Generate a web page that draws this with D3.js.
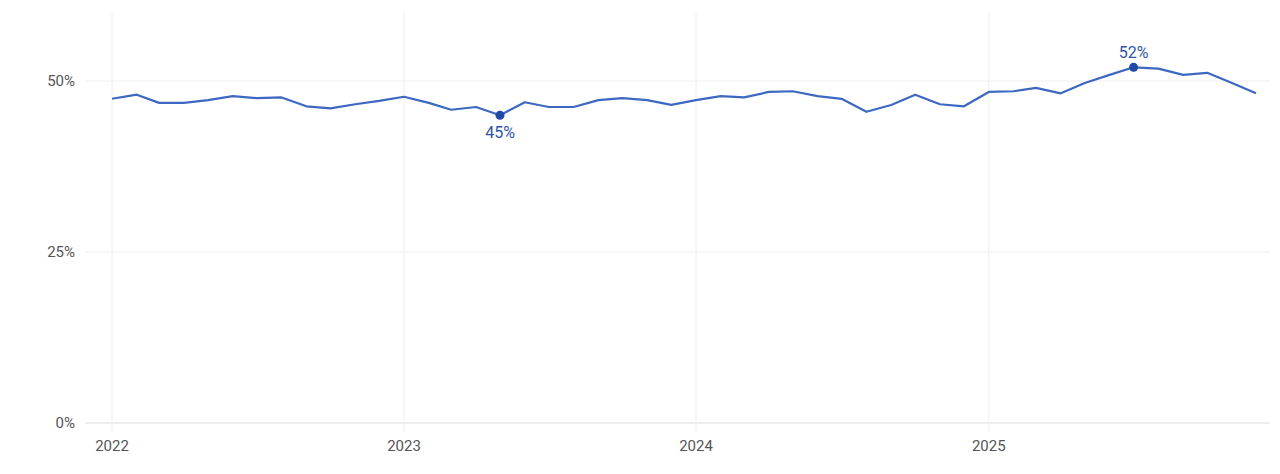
<!DOCTYPE html>
<html><head><meta charset="utf-8">
<script src="https://cdn.jsdelivr.net/npm/d3@7"></script>
<style>body{margin:0;background:#fff}text{font-family:Roboto,sans-serif}</style>
</head><body><svg id="c" width="1280" height="474"></svg>
<script>
const startYear = 2022;
const values = [
47.4,48.0,46.8,46.8,47.2,47.8,47.5,47.6,46.3,46.0,46.6,47.1,
47.7,46.8,45.8,46.2,45.0,46.9,46.2,46.2,47.2,47.5,47.2,46.5,
47.2,47.8,47.6,48.4,48.5,47.8,47.4,45.5,46.5,48.0,46.6,46.3,
48.4,48.5,49.0,48.2,49.7,50.9,52.0,51.8,50.9,51.2,49.7,48.2];
const yTicks = [0,25,50];
const xTickYears = [2022,2023,2024,2025];
const annotated = [{i:16,label:"45%",pos:"below"},{i:42,label:"52%",pos:"above"}];

const svg = d3.select("#c");
const dates = values.map((v,i)=>new Date(startYear, i, 1));
const x = d3.scaleTime().domain([new Date(2022,0,1), new Date(2025,11,1)]).range([112,1256]);
const y = d3.scaleLinear().domain([0,60]).range([423,12.6]);

const g = svg.append("g");
g.selectAll(".hg").data(yTicks).join("line")
 .attr("x1",85).attr("x2",1270).attr("y1",d=>y(d)).attr("y2",d=>y(d))
 .attr("stroke",d=>d===0?"#ddd":"#eee").attr("stroke-width",1);
g.selectAll(".vg").data(xTickYears).join("line")
 .attr("x1",d=>x(new Date(d,0,1))).attr("x2",d=>x(new Date(d,0,1)))
 .attr("y1",12).attr("y2",432).attr("stroke","#eee");
g.selectAll(".yl").data(yTicks).join("text")
 .attr("x",75).attr("y",d=>y(d)).attr("dy","0.35em").attr("text-anchor","end")
 .attr("font-size",15).attr("fill","#555").text(d=>d+"%");
g.selectAll(".xl").data(xTickYears).join("text")
 .attr("x",d=>x(new Date(d,0,1))).attr("y",451).attr("text-anchor","middle")
 .attr("font-size",15).attr("fill","#555").text(d=>d);

const line = d3.line().x((d,i)=>x(dates[i])).y(d=>y(d));
svg.append("path").datum(values).attr("d",line).attr("fill","none")
 .attr("stroke","#3d68c2").attr("stroke-width",2.2).attr("stroke-linejoin","round");

annotated.forEach(a=>{
  const cx=x(dates[a.i]), cy=y(values[a.i]);
  svg.append("circle").attr("cx",cx).attr("cy",cy).attr("r",4.5).attr("fill","#1f4aa8");
  svg.append("text").attr("x",cx).attr("y",a.pos==="below"?cy+23:cy-9)
   .attr("text-anchor","middle").attr("font-size",16).attr("fill","#2f55a8").text(a.label);
});
</script></body></html>
